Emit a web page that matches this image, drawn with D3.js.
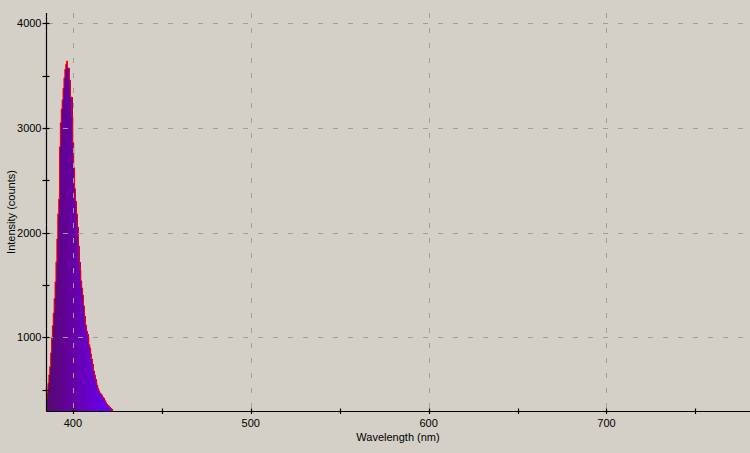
<!DOCTYPE html>
<html>
<head>
<meta charset="utf-8">
<script src="https://cdn.jsdelivr.net/npm/d3@7/dist/d3.min.js"></script>
<style>
  html, body { margin: 0; padding: 0; background: #d4d0c8; }
  svg { display: block; }
  text { font-family: "Liberation Sans", Arial, sans-serif; font-size: 11px; fill: #000; }
</style>
</head>
<body>
<svg id="chart" width="750" height="453"></svg>
<script>
// ---- data ----
const wavelengths = [
  385.0, 385.5, 386.0, 386.5, 387.0, 387.5, 388.0, 388.5, 389.0, 389.5,
  390.0, 390.5, 391.0, 391.5, 392.0, 392.5, 393.0, 393.5, 394.0, 394.5,
  395.0, 395.5, 396.0, 396.5, 397.0, 397.5, 398.0, 398.5, 399.0, 399.5,
  400.0, 400.5, 401.0, 401.5, 402.0, 402.5, 403.0, 403.5, 404.0, 404.5,
  405.0, 405.5, 406.0, 406.5, 407.0, 407.5, 408.0, 408.5, 409.0, 409.5,
  410.0, 410.5, 411.0, 411.5, 412.0, 412.5, 413.0, 413.5, 414.0, 414.5,
  415.0, 415.5, 416.0, 416.5, 417.0, 417.5, 418.0, 418.5, 419.0, 419.5,
  420.0, 420.5, 421.0, 421.5, 422.0, 422.5
];
const intensities = [
  400, 470, 560, 640, 720, 850, 990, 1110, 1230, 1370,
  1530, 1720, 1940, 2180, 2320, 2820, 3050, 3180, 3270, 3380,
  3480, 3560, 3610, 3640, 3572, 3572, 3457, 3295, 3295, 3103,
  2860, 2620, 2420, 2300, 2180, 2050, 1870, 1720, 1640, 1540,
  1470, 1400, 1300, 1200, 1120, 1060, 1030, 1000, 930, 900,
  840, 790, 740, 680, 640, 600, 570, 540, 510, 490,
  470, 460, 450, 430, 420, 405, 395, 375, 360, 350,
  345, 330, 320, 315, 300, 292
];
const binWidth = 0.5;
const xMajorTicks = [400, 500, 600, 700];
const xMinorTicks = [450, 550, 650, 750];
const yMajorTicks = [1000, 2000, 3000, 4000];
const yMinorTicks = [500, 1500, 2500, 3500];
const xDomain = [385.2, 780.7];
const yDomain = [290, 4099];

(function () {
  // ---- layout ----
  const pL = 46.5, pR = 750, pT = 13, pB = 411.5;
  const svg = d3.select("#chart");

  const x = d3.scaleLinear().domain(xDomain).range([pL, pR]);
  const y = d3.scaleLinear().domain(yDomain).range([pB, pT]);
  const color = d3.scaleLinear()
    .domain([385, 398, 410, 422])
    .range(["#520a6e", "#66009e", "#6800cc", "#6000ff"])
    .clamp(true);

  svg.append("defs").append("clipPath").attr("id", "plot")
    .append("rect").attr("x", pL).attr("y", pT)
    .attr("width", pR - pL).attr("height", pB - pT);

  const data = wavelengths.map((w, i) => ({ w, v: intensities[i] }));

  const plot = svg.append("g").attr("clip-path", "url(#plot)");

  // bars coloured by wavelength
  plot.selectAll("rect.bar").data(data).join("rect")
    .attr("class", "bar")
    .attr("shape-rendering", "crispEdges")
    .attr("x", d => x(d.w))
    .attr("width", d => x(d.w + binWidth) - x(d.w) + 0.6)
    .attr("y", d => y(d.v))
    .attr("height", d => pB - y(d.v))
    .attr("fill", d => color(d.w + binWidth / 2));

  // red step outline
  const outlinePts = data.concat([{ w: wavelengths[wavelengths.length - 1] + binWidth, v: yDomain[0] }]);
  const line = d3.line().x(d => x(d.w)).y(d => y(d.v)).curve(d3.curveStepAfter);
  plot.append("path")
    .attr("d", line(outlinePts))
    .attr("fill", "none")
    .attr("stroke", "#ff0000")
    .attr("stroke-width", 1);

  // grid (drawn over the bars)
  const grid = svg.append("g").attr("stroke", "#a09e9a").attr("stroke-width", 1)
    .attr("stroke-dasharray", "5,10").attr("shape-rendering", "crispEdges");
  grid.selectAll("line.h").data(yMajorTicks).join("line")
    .attr("class", "h")
    .attr("x1", pL + 1).attr("x2", pR)
    .attr("y1", d => Math.round(y(d)) + 0.5).attr("y2", d => Math.round(y(d)) + 0.5);
  grid.selectAll("line.v").data(xMajorTicks).join("line")
    .attr("class", "v")
    .attr("y1", pT).attr("y2", pB - 1)
    .attr("x1", d => Math.round(x(d)) + 0.5).attr("x2", d => Math.round(x(d)) + 0.5);

  // axes lines
  const ax = svg.append("g").attr("stroke", "#000").attr("stroke-width", 1.2);
  ax.append("line").attr("x1", pL).attr("x2", pL).attr("y1", pT).attr("y2", pB);
  ax.append("line").attr("x1", pL).attr("x2", pR).attr("y1", pB).attr("y2", pB);

  // y ticks
  ax.selectAll("line.yt").data(yMajorTicks.concat(yMinorTicks)).join("line")
    .attr("class", "yt")
    .attr("x1", pL - 4).attr("x2", pL + 3)
    .attr("y1", d => Math.round(y(d)) + 0.5).attr("y2", d => Math.round(y(d)) + 0.5);
  // x ticks
  ax.selectAll("line.xt").data(xMajorTicks.concat(xMinorTicks)).join("line")
    .attr("class", "xt")
    .attr("y1", pB - 3).attr("y2", pB + 2.5)
    .attr("x1", d => Math.round(x(d)) + 0.5).attr("x2", d => Math.round(x(d)) + 0.5);

  // tick labels
  svg.selectAll("text.yl").data(yMajorTicks).join("text")
    .attr("class", "yl")
    .attr("x", pL - 5).attr("y", d => y(d) + 4)
    .attr("text-anchor", "end")
    .text(d => d);
  svg.selectAll("text.xl").data(xMajorTicks).join("text")
    .attr("class", "xl")
    .attr("x", d => x(d)).attr("y", pB + 15)
    .attr("text-anchor", "middle")
    .text(d => d);

  // axis titles
  svg.append("text")
    .attr("x", 398).attr("y", 441)
    .attr("text-anchor", "middle")
    .text("Wavelength (nm)");
  svg.append("text")
    .attr("transform", "translate(15,212) rotate(-90)")
    .attr("text-anchor", "middle")
    .text("Intensity (counts)");
})();
</script>
</body>
</html>
